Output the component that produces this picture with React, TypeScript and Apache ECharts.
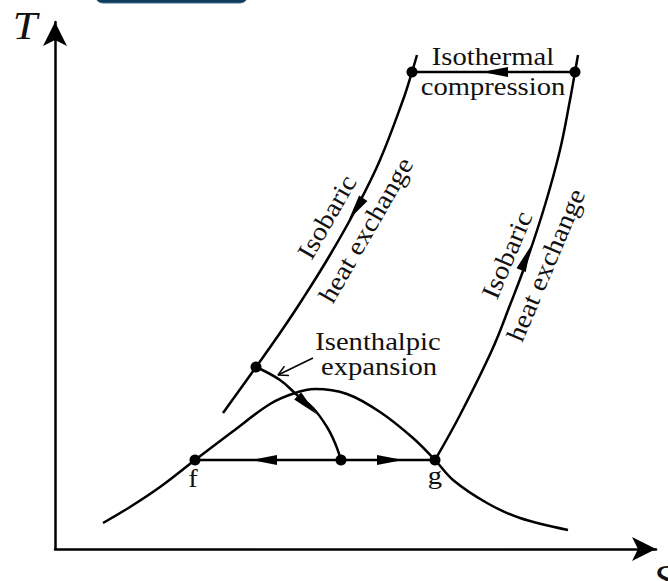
import React, { useEffect, useRef } from 'react';
import * as echarts from 'echarts';

// Coordinates in (s, T) diagram units
const domeCurve: number[][] = [
  [48, 26], [75, 42], [105, 62], [140, 89], [177, 117], [215, 145],
  [240, 156], [260, 160], [292, 155], [325, 137], [358, 111], [380, 89],
  [398, 69], [432, 46], [465, 31], [513, 19],
];
const leftIsobar: number[][] = [
  [168, 136], [201, 182], [225, 216], [247, 249], [275, 294], [302, 342],
  [325, 389], [348, 449], [357, 477], [362, 494],
];
const rightIsobar: number[][] = [
  [380, 89], [405, 134], [437, 199], [455, 244], [472, 289], [490, 344],
  [505, 399], [515, 449], [520, 477], [523, 494],
];
const isenthalp: number[][] = [
  [201, 182], [225, 169], [242, 154], [258, 141], [272, 122], [280, 106], [286, 89],
];
const isothermLine: number[][] = [[357, 477], [520, 477]];
const twoPhaseLine: number[][] = [[140, 89], [380, 89]];
const statePoints: number[][] = [
  [140, 89], [380, 89], [286, 89], [201, 182], [357, 477], [520, 477],
];
// direction arrows: [s, T, rotation deg]
const flowArrows: number[][] = [
  [440, 477, 90], [209, 89, 90], [335, 89, -90], [301, 340, 146], [471, 291, -22], [252, 144, -134],
];
const leaderTail = [258, 191];
const leaderTip = [223, 174];

const labelTexts = ['Isothermal', 'compression', 'Isenthalpic', 'expansion', 'f', 'g'];
const labelAnchors: number[][] = [
  [438, 486], [438, 456], [323, 201], [324, 176], [138, 64], [380, 67],
];
const rotTexts = ['Isobaric', 'heat exchange', 'Isobaric', 'heat exchange'];
const rotAnchors: number[][] = [[272, 332], [311, 319], [452, 294], [491, 284]];
const rotAngles = [60, 60, 67, 67];

const S_MAX = 601;
const T_MAX = 527;

export default function App() {
  const ref = useRef<HTMLDivElement>(null);
  useEffect(() => {
    document.body.style.margin = '0';
    const chart = echarts.init(ref.current!, null, { renderer: 'svg' });
    const lineStyle = { color: '#000', width: 2.5 };
    const curve = (data: number[][], smooth: number | boolean = 0.4) => ({
      type: 'line', data, smooth, showSymbol: false, symbol: 'none',
      lineStyle, silent: true, z: 3,
    });
    const d = [leaderTail[0] - leaderTip[0], leaderTail[1] - leaderTip[1]];
    const len = Math.hypot(d[0], d[1]);
    const u = [d[0] / len, d[1] / len];
    const barb = (a: number) => {
      const r = (a * Math.PI) / 180;
      return [
        leaderTip[0] + 11 * (u[0] * Math.cos(r) - u[1] * Math.sin(r)),
        leaderTip[1] + 11 * (u[0] * Math.sin(r) + u[1] * Math.cos(r)),
      ];
    };
    const axisCommon = {
      type: 'value', min: 0,
      axisLine: {
        show: true, symbol: ['none', 'arrow'], symbolSize: [18, 24],
        lineStyle: { color: '#000', width: 2.5 },
      },
      axisTick: { show: false }, axisLabel: { show: false }, splitLine: { show: false },
    };
    chart.setOption({
      animation: false,
      backgroundColor: '#fff',
      grid: { left: 55, right: 12, top: 22, bottom: 32 },
      xAxis: { ...axisCommon, max: S_MAX },
      yAxis: { ...axisCommon, max: T_MAX },
      series: [
        curve(domeCurve, 0.35),
        curve(leftIsobar),
        curve(rightIsobar),
        curve(isenthalp),
        curve(isothermLine, false),
        curve(twoPhaseLine, false),
        {
          type: 'line', data: [leaderTail, leaderTip], showSymbol: false, symbol: 'none',
          lineStyle: { color: '#000', width: 1.5 }, z: 3,
        },
        {
          type: 'line', data: [barb(28), leaderTip, barb(-28)], showSymbol: false, symbol: 'none',
          lineStyle: { color: '#000', width: 1.5 }, z: 3,
        },
        {
          type: 'scatter', symbol: 'triangle', symbolSize: [10, 26],
          itemStyle: { color: '#000', opacity: 1 }, z: 4,
          data: flowArrows.map((a) => ({ value: [a[0], a[1]], symbolRotate: a[2] })),
        },
        {
          type: 'scatter', symbol: 'circle', symbolSize: 11,
          itemStyle: { color: '#000', opacity: 1 }, z: 5, data: statePoints,
        },
      ],
    });
    const px = (p: number[]) => chart.convertToPixel({ gridIndex: 0 }, p) as number[];
    const font = '"Liberation Serif", "Times New Roman", serif';
    const graphics: any[] = [
      {
        type: 'rect', shape: { x: 95, y: -14, width: 153, height: 17, r: 8 },
        style: { fill: '#0f3b5c', stroke: '#3d6a8a', lineWidth: 1 }, z: 10,
      },
      {
        type: 'text', x: 25, y: 46, scaleX: 1.1,
        style: { text: 'T', font: `italic 40px ${font}`, fill: '#111', align: 'center', verticalAlign: 'bottom' },
      },
      {
        type: 'text', x: 653, y: 599, scaleX: 1.1,
        style: { text: 'S', font: `italic 40px ${font}`, fill: '#111', align: 'left', verticalAlign: 'bottom' },
      },
    ];
    labelTexts.forEach((t, i) => {
      const p = px(labelAnchors[i]);
      graphics.push({
        type: 'text', x: p[0], y: p[1] + 6, scaleX: 1.1,
        style: { text: t, font: `26px ${font}`, fill: '#111', align: 'center', verticalAlign: 'bottom' },
      });
    });
    rotTexts.forEach((t, i) => {
      const p = px(rotAnchors[i]);
      graphics.push({
        type: 'text', x: p[0], y: p[1], scaleX: 1.1, rotation: (rotAngles[i] * Math.PI) / 180,
        style: { text: t, font: `26px ${font}`, fill: '#111', align: 'center', verticalAlign: 'middle' },
      });
    });
    chart.setOption({ graphic: graphics });
    return () => chart.dispose();
  }, []);
  return <div ref={ref} style={{ width: 668, height: 581 }} />;
}
